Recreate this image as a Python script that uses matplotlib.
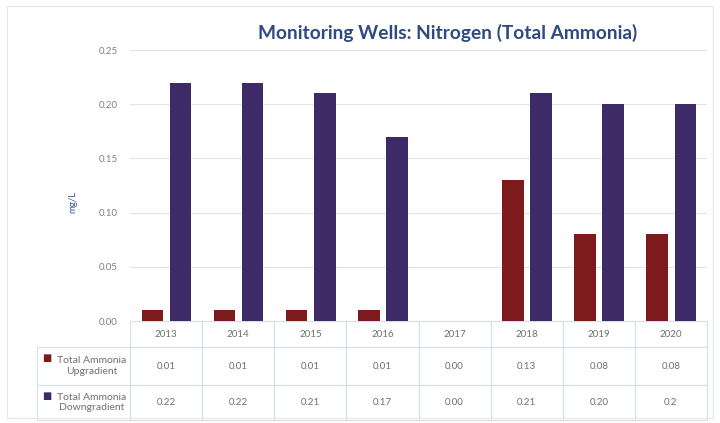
import matplotlib
matplotlib.use("Agg")
import matplotlib.pyplot as plt
from matplotlib.patches import Rectangle

plt.rcParams['font.family'] = ['Lato', 'DejaVu Sans']

years = ["2013", "2014", "2015", "2016", "2017", "2018", "2019", "2020"]
upgradient = [0.01, 0.01, 0.01, 0.01, 0.00, 0.13, 0.08, 0.08]
downgradient = [0.22, 0.22, 0.21, 0.17, 0.00, 0.21, 0.20, 0.20]
up_text = ["0.01", "0.01", "0.01", "0.01", "0.00", "0.13", "0.08", "0.08"]
down_text = ["0.22", "0.22", "0.21", "0.17", "0.00", "0.21", "0.20", "0.2"]
series_names = ["Total Ammonia\nUpgradient", "Total Ammonia\nDowngradient"]
yticks = [0.00, 0.05, 0.10, 0.15, 0.20, 0.25]

red = "#7d1a1c"
purple = "#3f2a68"
title_col = "#2f4a80"
line_col = "#d5dfe9"

W, H = 720, 423
fig = plt.figure(figsize=(7.2, 4.23), dpi=100)
fig.patches.append(Rectangle((7 / W, 5 / H), 706 / W, 412 / H, transform=fig.transFigure,
                             fill=False, edgecolor="#e6e6e6", linewidth=0.8))

# axes placed in pixel terms
ax = fig.add_axes([130 / W, 1 - 321 / H, 577 / W, 271 / H])
x = list(range(len(years)))
ax.bar([i - 0.19 for i in x], upgradient, width=0.3, color=red, zorder=3)
ax.bar([i + 0.2 for i in x], downgradient, width=0.3, color=purple, zorder=3)

ax.set_xlim(-0.5, len(years) - 0.5)
ax.set_ylim(0, 0.25)
ax.set_yticks(yticks)
ax.set_yticklabels([f"{v:.2f}" for v in yticks], color="#808080", fontsize=7)
ax.tick_params(axis="y", length=0, pad=9)
ax.set_xticks([])
ax.grid(axis="y", color="#e3e3e3", linewidth=0.8, zorder=0)
for s in ax.spines.values():
    s.set_visible(False)

ax.set_ylabel("mg/L", color="#3a5a9a", fontsize=7)
ax.yaxis.set_label_coords(-0.092, 0.44)

fig.text(448 / W, 1 - 33 / H, "Monitoring Wells: Nitrogen (Total Ammonia)",
         ha="center", va="center", fontsize=13.8, fontweight="bold", color=title_col)

# data table under the axes (bbox covers data columns only, row labels hang left)
tbl = ax.table(cellText=[up_text, down_text], colLabels=years,
               colWidths=[1 / 8] * 8, cellLoc="center",
               bbox=[0, -99 / 271, 1, 99 / 271])
for r, name in enumerate(series_names):
    tbl.add_cell(r + 1, -1, width=93 / 577, height=0.1, text=name, loc="right")
tbl.auto_set_font_size(False)
heights = {0: 26, 1: 38, 2: 35}
for (r, c), cell in tbl.get_celld().items():
    cell.set_edgecolor(line_col)
    cell.set_linewidth(0.8)
    cell.set_height(heights[r])
    cell.get_text().set_fontsize(7)
    cell.get_text().set_color("#707070")
    if c == -1:
        cell.PAD = 0.04
        cell.get_text().set_fontsize(7.5)
        cell.get_text().set_multialignment("center")

# legend keys in the row label cells
fig.text(47 / W, 1 - 358 / H, "■", color=red, fontsize=7, ha="center", va="center")
fig.text(47 / W, 1 - 396 / H, "■", color=purple, fontsize=7, ha="center", va="center")

fig.savefig("out.png", dpi=100)
